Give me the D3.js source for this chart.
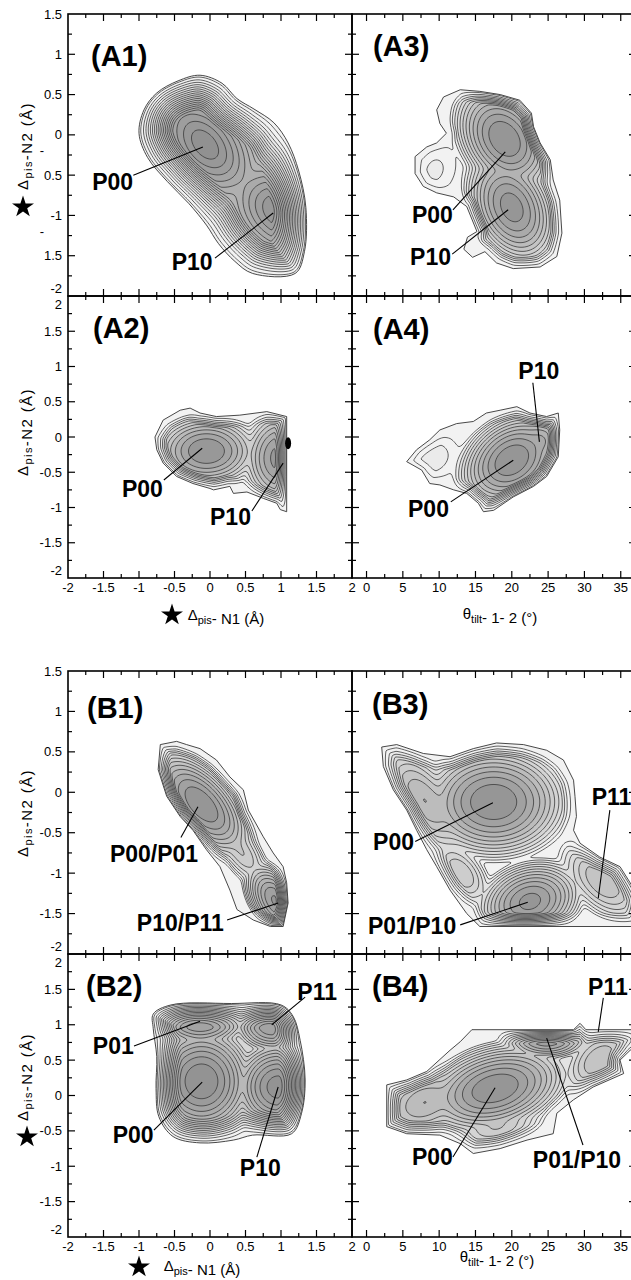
<!DOCTYPE html>
<html>
<head>
<meta charset="utf-8">
<script src="https://cdn.jsdelivr.net/npm/d3@7"></script>
<style>
  body { margin: 0; background: #fff; }
  svg { display: block; }
  text { font-family: "Liberation Sans", Arial, Helvetica, sans-serif; }
</style>
</head>
<body>
<svg id="fig" width="631" height="1280"></svg>
<script>
// tick values
const distTicks = [-2, -1.5, -1, -0.5, 0, 0.5, 1, 1.5, 2];
const tiltTicks = [0, 5, 10, 15, 20, 25, 30, 35];
const yTicksTop = [-2, -1.5, -1, -0.5, 0, 0.5, 1, 1.5];
const yTicksBot = [-2, -1.5, -1, -0.5, 0, 0.5, 1, 1.5, 2];
const a1StrayMinus = [-0.5, -1.5];

// free-energy basins: [x, y, halfWidthX, halfWidthY, tilt, depth]
const wellsA1 = [[-0.07, -0.12, 1.0, 0.95, -0.45, 0], [0.98, -0.95, 1.0, 0.85, -0.3, 0.3]];
const wellsA2 = [[-0.05, -0.2, 0.8, 0.55, 0, 0], [1.0, -0.3, 0.6, 0.75, 0, 0.2]];
const wellsA3 = [[19, -0.05, 7.5, 0.75, -0.3, 0], [20, -0.9, 7, 0.8, -0.3, 0.2], [9.4, -0.44, 9, 1.0, 0.2, 5.4]];
const wellsA4 = [[20, -0.33, 8, 0.75, 0.3, 0], [24, -0.05, 4.5, 0.45, 0, 1.5], [9, -0.3, 10, 0.9, 0.2, 5.2]];
const wellsB1 = [[-0.12, -0.15, 0.8, 0.75, -0.6, 0], [0.93, -1.35, 0.5, 0.55, -0.5, 0.4], [0.45, -0.75, 0.55, 0.6, -0.6, 3]];
const wellsB2 = [[-0.12, 0.2, 0.8, 0.85, 0, 0], [0.96, 0.12, 0.7, 0.7, 0, 0.2], [-0.14, 1.07, 0.75, 0.45, 0, 0.7], [0.87, 1.0, 0.6, 0.45, 0, 0.9]];
const wellsB3 = [[17.5, -0.12, 11, 0.75, 0, 0], [22.5, -1.35, 8, 0.55, 0.2, 0.3], [32.5, -1.1, 8, 0.7, -0.5, 2.5], [8, -0.1, 8, 0.9, -0.6, 2.0], [13, -1.0, 6, 0.6, -0.5, 3.0]];
const wellsB4 = [[17.7, 0.1, 11, 0.7, 0.3, 0], [24.8, 0.8, 7, 0.35, 0, 0.5], [32, 0.5, 7, 0.7, 0.4, 2.5], [8, -0.1, 9, 0.7, 0.3, 2.0], [18, -0.45, 9, 0.45, 0.4, 3.0]];
// dark spot on the right edge of A2
const blobA2 = [[1.1, -0.09]];

// sampled region outlines
const edgeA1 = [[-0.14, 0.74], [-0.45, 0.67], [-0.75, 0.52], [-0.93, 0.31], [-1.0, 0.02], [-0.88, -0.28], [-0.6, -0.58], [-0.3, -0.85], [-0.05, -1.12], [0.12, -1.35], [0.35, -1.57], [0.6, -1.72], [1.2, -1.72], [1.33, -1.45], [1.35, -0.9], [1.25, -0.45], [1.1, -0.1], [0.9, 0.15], [0.62, 0.32], [0.38, 0.45], [0.17, 0.64]];
const edgeA2 = [[-0.775, 0.0], [-0.66, 0.24], [-0.42, 0.38], [-0.28, 0.41], [-0.14, 0.34], [0.09, 0.29], [0.42, 0.31], [0.8, 0.36], [1.08, 0.29], [1.08, -1.06], [0.99, -1.03], [0.94, -0.94], [0.75, -0.87], [0.52, -0.78], [0.33, -0.8], [0.28, -0.7], [0.05, -0.75], [0.0, -0.73], [-0.24, -0.66], [-0.47, -0.56], [-0.66, -0.37], [-0.75, -0.18]];
const edgeA3 = [[9.66, 0.31], [10.6, 0.47], [12.9, 0.56], [15.6, 0.54], [18.4, 0.5], [21.1, 0.43], [22.7, 0.27], [23.0, 0.1], [23.9, -0.1], [25.3, -0.31], [25.7, -0.56], [26.6, -0.81], [26.9, -1.22], [26.2, -1.51], [23.9, -1.64], [20.2, -1.66], [17.9, -1.59], [16.3, -1.45], [14.6, -1.52], [13.4, -1.42], [13.9, -1.27], [15.2, -1.2], [13.8, -0.89], [12.0, -0.77], [9.66, -0.72], [7.82, -0.64], [6.68, -0.48], [6.68, -0.27], [8.29, -0.15], [9.66, -0.1], [11.0, 0.02], [10.1, 0.14]];
const edgeA4 = [[5.53, -0.35], [6.9, -0.18], [8.7, -0.04], [10.1, 0.1], [12.4, 0.19], [14.7, 0.22], [16.5, 0.34], [18.4, 0.38], [20.7, 0.43], [22.5, 0.34], [24.8, 0.29], [26.4, 0.34], [26.6, 0.1], [26.4, -0.28], [24.8, -0.56], [23.0, -0.7], [20.2, -0.85], [17.5, -1.04], [16.1, -1.06], [15.4, -0.94], [13.8, -0.8], [12.0, -0.75], [10.1, -0.68], [8.7, -0.66], [7.6, -0.47], [6.4, -0.4]];
const edgeB1 = [[-0.7, 0.59], [-0.47, 0.63], [-0.33, 0.59], [-0.14, 0.54], [0.09, 0.4], [0.28, 0.19], [0.47, 0.03], [0.54, -0.22], [0.75, -0.55], [0.89, -0.75], [1.03, -0.92], [1.08, -1.12], [1.1, -1.37], [1.03, -1.66], [0.85, -1.66], [0.61, -1.58], [0.38, -1.45], [0.28, -1.21], [0.14, -0.92], [-0.05, -0.71], [-0.24, -0.47], [-0.42, -0.3], [-0.61, -0.05], [-0.73, 0.28]];
const edgeB2 = [[-0.55, 1.28], [0.3, 1.3], [1.0, 1.28], [1.17, 1.12], [1.27, 0.78], [1.34, 0.22], [1.29, -0.25], [1.15, -0.54], [0.6, -0.56], [0.33, -0.63], [-0.14, -0.67], [-0.52, -0.58], [-0.72, -0.3], [-0.76, 0.1], [-0.75, 0.55], [-0.8, 0.95], [-0.8, 1.15]];
const edgeB3 = [[2.09, 0.56], [4.16, 0.59], [7.82, 0.48], [11.5, 0.44], [14.7, 0.54], [17.9, 0.61], [21.6, 0.59], [24.8, 0.52], [27.1, 0.4], [28.5, 0.15], [28.7, -0.05], [28.9, -0.3], [28.5, -0.47], [29.4, -0.63], [32.1, -0.8], [34.9, -0.92], [36.3, -1.12], [37.5, -1.3], [37.5, -1.66], [15.6, -1.66], [13.8, -1.5], [11.5, -1.21], [9.66, -0.92], [8.29, -0.71], [6.9, -0.47], [5.53, -0.22], [3.69, 0.03], [2.31, 0.32]];
const edgeB4 = [[2.78, 0.15], [5.53, 0.22], [8.29, 0.34], [11.5, 0.64], [12.9, 0.76], [14.5, 0.93], [28.5, 0.93], [29.4, 1.02], [30.2, 0.93], [37.5, 0.93], [37.5, 0.7], [36.3, 0.64], [34.9, 0.5], [35.4, 0.31], [31.2, 0.12], [28.5, -0.06], [26.2, -0.25], [25.7, -0.54], [22.1, -0.63], [18.4, -0.75], [14.7, -0.82], [12.9, -0.68], [10.1, -0.56], [5.53, -0.54], [2.78, -0.44]];

// state labels: [text, textX, textY, lineX, lineY, pointX, pointY]
const labelsA1 = [["P00", -1.66, -0.68, -1.08, -0.5, -0.1, -0.15], ["P10", -0.54, -1.68, 0.07, -1.53, 0.89, -0.97]];
const labelsA2 = [["P00", -1.24, -0.85, -0.65, -0.61, -0.11, -0.16], ["P10", 0.0, -1.25, 0.59, -1.05, 1.03, -0.37]];
const labelsA3 = [["P00", 6.26, -1.09, 11.9, -0.93, 19.1, -0.21], ["P10", 6.0, -1.61, 11.8, -1.48, 19.5, -0.93]];
const labelsA4 = [["P10", 20.9, 0.82, 22.9, 0.77, 23.8, -0.07], ["P00", 5.71, -1.13, 11.6, -0.92, 20.2, -0.33]];
const labelsB1 = [["P00/P01", -1.41, -0.86, -0.41, -0.56, -0.17, -0.18], ["P10/P11", -1.03, -1.71, 0.24, -1.58, 0.96, -1.37]];
const labelsB2 = [["P01", -1.65, 0.59, -1.07, 0.7, -0.14, 1.05], ["P11", 1.23, 1.35, 1.34, 1.39, 0.87, 1.0], ["P00", -1.37, -0.67, -0.79, -0.49, -0.11, 0.19], ["P10", 0.42, -1.14, 0.66, -0.87, 0.96, 0.12]];
const labelsB3 = [["P00", 0.9, -0.71, 6.7, -0.61, 17.4, -0.13], ["P01/P10", 0.2, -1.75, 12.9, -1.64, 22.2, -1.36], ["P11", 31.0, -0.16, 33.5, -0.22, 31.9, -1.31]];
const labelsB4 = [["P11", 30.5, 1.42, 32.6, 1.38, 31.9, 0.9], ["P00", 6.26, -0.98, 11.9, -0.87, 17.7, 0.11], ["P01/P10", 22.9, -1.02, 29.8, -0.7, 24.8, 0.81]];

const svg = d3.select("#fig");
const defs = svg.append("defs");

const cols = [
  { x0: 68, x1: 352, dom: [-2, 2], major: distTicks, step: 0.25 },
  { x0: 352, x1: 636, dom: [-2, 37.1], major: tiltTicks, step: 2.5 }
];
const rows = [
  { y0: 14, y1: 296, dom: [-2, 1.5], major: yTicksTop },
  { y0: 296, y1: 578, dom: [-2, 2], major: yTicksBot },
  { y0: 671, y1: 954, dom: [-2, 1.5], major: yTicksTop },
  { y0: 954, y1: 1237, dom: [-2, 2], major: yTicksBot }
];

// n levels of size step; kw = basin scale; rim = [width px, sharpness] over which levels crowd to the outline
const panels = [
  { id: "A1", c: 0, r: 0, wells: wellsA1, edge: edgeA1, smooth: true, labels: labelsA1, n: 20, step: 0.5, kw: 6, p: 1.5, rim: [35, 1.2], tag: [91, 66] },
  { id: "A2", c: 0, r: 1, wells: wellsA2, edge: edgeA2, labels: labelsA2, n: 10, step: 0.5, kw: 5, p: 2, rim: [12, 1.2], tag: [93, 338], blobs: blobA2 },
  { id: "A3", c: 1, r: 0, wells: wellsA3, edge: edgeA3, labels: labelsA3, n: 12, step: 0.5, kw: 6, p: 2, rim: [12, 1.2], tag: [373, 56] },
  { id: "A4", c: 1, r: 1, wells: wellsA4, edge: edgeA4, labels: labelsA4, n: 12, step: 0.5, kw: 6, p: 2, rim: [12, 1.2], tag: [373, 339] },
  { id: "B1", c: 0, r: 2, wells: wellsB1, edge: edgeB1, labels: labelsB1, n: 12, step: 0.5, kw: 6, p: 2, rim: [12, 1.2], tag: [87, 718] },
  { id: "B2", c: 0, r: 3, wells: wellsB2, edge: edgeB2, smooth: true, labels: labelsB2, n: 16, step: 0.5, kw: 6, p: 2, rim: [26, 1.6], tag: [86, 996] },
  { id: "B3", c: 1, r: 2, wells: wellsB3, edge: edgeB3, labels: labelsB3, n: 12, step: 0.5, kw: 6, p: 2, rim: [14, 1.2], tag: [372, 714] },
  { id: "B4", c: 1, r: 3, wells: wellsB4, edge: edgeB4, labels: labelsB4, n: 12, step: 0.5, kw: 6, p: 2, rim: [14, 1.2], tag: [372, 996] }
];

function basins(pn, x, y) {
  const f = [];
  let m = Infinity;
  for (const [cx, cy, ax, ay, rho, d] of pn.wells) {
    const u = (x - cx) / ax, v = (y - cy) / ay;
    const r2 = Math.max(0, (u * u - 2 * rho * u * v + v * v) / (1 - rho * rho));
    const e = d + pn.kw * Math.pow(r2, pn.p / 2);
    f.push(e);
    if (e < m) m = e;
  }
  let s = 0;
  for (const e of f) s += Math.exp(-(e - m) / 0.5);
  return m - 0.5 * Math.log(s);
}

function edgeDistance(pts, px, py) {
  let best = Infinity;
  for (let k = 0; k < pts.length; k++) {
    const [ax, ay] = pts[k], [bx, by] = pts[(k + 1) % pts.length];
    const dx = bx - ax, dy = by - ay;
    const len = dx * dx + dy * dy;
    let t = len ? ((px - ax) * dx + (py - ay) * dy) / len : 0;
    t = Math.max(0, Math.min(1, t));
    const ex = ax + t * dx - px, ey = ay + t * dy - py;
    const d2 = ex * ex + ey * ey;
    if (d2 < best) best = d2;
  }
  return Math.sqrt(best);
}

function ticksBetween(dom, step) {
  const out = [];
  for (let v = Math.ceil(dom[0] / step) * step; v < dom[1] - 1e-6; v += step) {
    if (v > dom[0] + 1e-6) out.push(+v.toFixed(3));
  }
  return out;
}

function drawPanel(pn) {
  const col = cols[pn.c], row = rows[pn.r];
  const xs = d3.scaleLinear().domain(col.dom).range([col.x0, col.x1]);
  const ys = d3.scaleLinear().domain(row.dom).range([row.y1, row.y0]);
  const g = svg.append("g");
  const K = pn.n * pn.step;
  const shade = d3.interpolateRgb("#878787", "#f2f2f2");
  const color = L => shade(Math.pow(L / K, 0.8));

  defs.append("clipPath").attr("id", "f" + pn.id).append("rect")
    .attr("x", col.x0).attr("y", row.y0).attr("width", col.x1 - col.x0).attr("height", row.y1 - row.y0);
  const edgePath = d3.line().x(d => xs(d[0])).y(d => ys(d[1]))
    .curve(pn.smooth ? d3.curveCatmullRomClosed : d3.curveLinearClosed)(pn.edge);
  defs.append("clipPath").attr("id", "e" + pn.id).append("path").attr("d", edgePath);

  // sample the outline in pixels so that levels crowd against it
  const probe = svg.append("path").attr("d", edgePath).node();
  const total = probe.getTotalLength();
  const pts = d3.range(0, total, 3).map(l => { const q = probe.getPointAtLength(l); return [q.x, q.y]; });
  probe.remove();
  const [bx0, bx1] = d3.extent(pts, d => d[0]), [by0, by1] = d3.extent(pts, d => d[1]);

  const gf = g.append("g").attr("clip-path", `url(#f${pn.id})`);
  gf.append("path").attr("d", edgePath).attr("fill", color(K));
  const gc = gf.append("g").attr("clip-path", `url(#e${pn.id})`);

  const [rimW, rimP] = pn.rim;
  const nx = Math.ceil(col.x1 - col.x0) + 1, ny = Math.ceil(row.y1 - row.y0) + 1;
  const vals = new Float64Array(nx * ny);
  for (let j = 0; j < ny; j++) {
    const py = row.y0 + j, y = ys.invert(py);
    for (let i = 0; i < nx; i++) {
      const px = col.x0 + i;
      if (px < bx0 - 2 || px > bx1 + 2 || py < by0 - 2 || py > by1 + 2) { vals[j * nx + i] = -(K + 10); continue; }
      let F = basins(pn, xs.invert(px), y);
      const dist = edgeDistance(pts, px, py);
      if (dist < rimW && F < K + 0.3) F += (K + 0.3 - F) * Math.pow(1 - dist / rimW, rimP);
      vals[j * nx + i] = -F;
    }
  }
  const levels = d3.range(pn.n, 0, -1).map(k => k * pn.step);
  const contours = d3.contours().size([nx, ny]).thresholds(levels.map(l => -l))(vals);
  const path = d3.geoPath(d3.geoIdentity().translate([col.x0 - 0.5, row.y0 - 0.5]));
  gc.selectAll("path").data(contours).join("path")
    .attr("d", path)
    .attr("fill", d => color(-d.value))
    .attr("stroke", "#3c3c3c")
    .attr("stroke-width", 0.8);
  gf.append("path").attr("d", edgePath).attr("fill", "none").attr("stroke", "#333").attr("stroke-width", 0.9);
  for (const [bx, by] of pn.blobs || []) {
    gf.append("ellipse").attr("cx", xs(bx)).attr("cy", ys(by)).attr("rx", 3).attr("ry", 6).attr("fill", "#000");
  }

  // frame and inward ticks
  g.append("rect").attr("x", col.x0).attr("y", row.y0).attr("width", col.x1 - col.x0).attr("height", row.y1 - row.y0)
    .attr("fill", "none").attr("stroke", "#000").attr("stroke-width", 1.6);
  const tk = g.append("g").attr("stroke", "#000").attr("stroke-width", 1.2);
  const isMajor = (v, list) => list.some(m => Math.abs(m - v) < 1e-6);
  for (const v of ticksBetween(col.dom, col.step)) {
    const L = isMajor(v, col.major) ? 7 : 4;
    tk.append("line").attr("x1", xs(v)).attr("x2", xs(v)).attr("y1", row.y0).attr("y2", row.y0 + L);
    tk.append("line").attr("x1", xs(v)).attr("x2", xs(v)).attr("y1", row.y1).attr("y2", row.y1 - L);
  }
  for (const v of ticksBetween(row.dom, 0.25)) {
    const L = isMajor(v, row.major) ? 7 : 4;
    tk.append("line").attr("y1", ys(v)).attr("y2", ys(v)).attr("x1", col.x0).attr("x2", col.x0 + L);
    tk.append("line").attr("y1", ys(v)).attr("y2", ys(v)).attr("x1", col.x1).attr("x2", col.x1 - L);
  }

  // y tick labels on the left column
  if (pn.c === 0) {
    for (const v of row.major) {
      let y = ys(v) + 4.5;
      if (v === row.dom[0]) y -= 7.5;
      if (v === 2) y += 8;
      let txt = String(v);
      if (pn.id === "A1" && a1StrayMinus.includes(v)) {
        txt = String(-v);
        g.append("text").attr("x", 42).attr("y", ys(v) - 20).attr("font-size", 13).attr("text-anchor", "middle").text("-");
      }
      g.append("text").attr("x", 62).attr("y", y).attr("text-anchor", "end").attr("font-size", 13).text(txt);
    }
  }
  // x tick labels on the bottom rows
  if (pn.r === 1 || pn.r === 3) {
    for (const v of col.major) {
      g.append("text").attr("x", xs(v)).attr("y", row.y1 + 14).attr("text-anchor", "middle").attr("font-size", 13).text(String(v));
    }
  }

  // state annotations
  for (const [t, tx, ty, lx, ly, px, py] of pn.labels) {
    g.append("line").attr("x1", xs(lx)).attr("y1", ys(ly)).attr("x2", xs(px)).attr("y2", ys(py))
      .attr("stroke", "#000").attr("stroke-width", 1.1);
    g.append("text").attr("x", xs(tx)).attr("y", ys(ty)).attr("font-weight", "bold").attr("font-size", 23).text(t);
  }
  g.append("text").attr("x", pn.tag[0]).attr("y", pn.tag[1]).attr("font-weight", "bold").attr("font-size", 29).text(`(${pn.id})`);
}

panels.forEach(drawPanel);

// axis titles
function titleText(x, y, parts, rotate, spacing) {
  const t = svg.append("text").attr("font-size", 15).attr("text-anchor", "middle")
    .attr("letter-spacing", spacing || 0)
    .attr("transform", `translate(${x},${y})${rotate ? " rotate(-90)" : ""}`);
  parts.forEach(([s, sub]) => {
    t.append("tspan").attr("font-size", sub ? 11 : 15).attr("dy", sub ? 4 : 0).text(s);
    if (sub) t.append("tspan").attr("dy", -4).text("");
  });
  return t;
}
const yTitle = [["Δ", false], ["pis", true], ["-N2 (Å)", false]];
const xTitle = [["Δ", false], ["pis", true], ["- N1 (Å)", false]];
const tTitle = [["θ", false], ["tilt", true], ["- 1- 2 (°)", false]];
[146, 432, 813, 1077].forEach(y => titleText(28, y, yTitle, true, 1.4));
titleText(226, 620, xTitle, false);
titleText(202, 1271, xTitle, false);
titleText(500, 619, tTitle, false);
titleText(497, 1262, tTitle, false);

const star = d3.symbol(d3.symbolStar).size(150);
[[23, 207], [27, 1137], [172, 615], [139, 1267]].forEach(([x, y]) =>
  svg.append("path").attr("d", star()).attr("transform", `translate(${x},${y})`).attr("fill", "#000"));
</script>
</body>
</html>
